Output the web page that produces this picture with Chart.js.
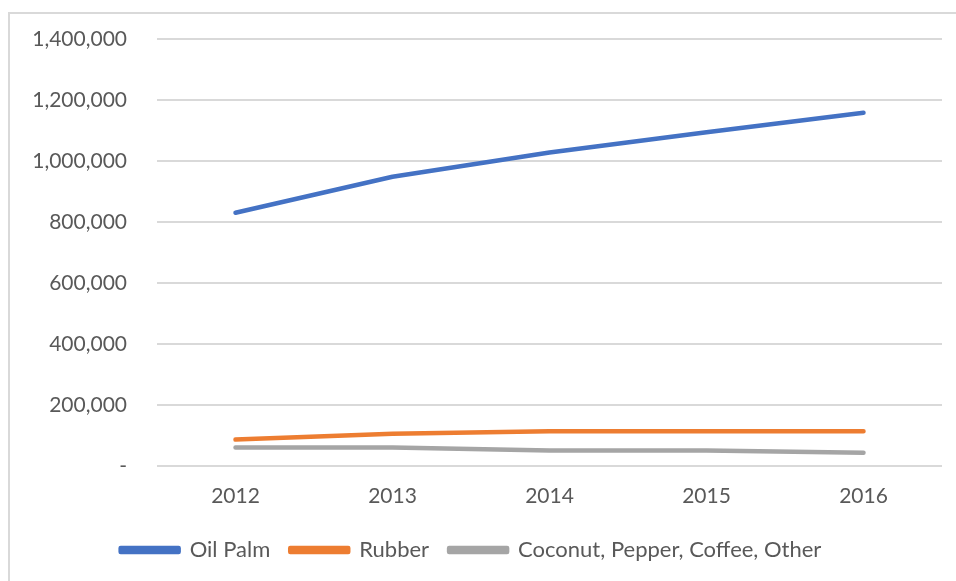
<!DOCTYPE html>
<html>
<head>
<meta charset="utf-8">
<script src="https://cdn.jsdelivr.net/npm/chart.js@4"></script>
<style>
  html, body { margin: 0; padding: 0; background: #fff; overflow: hidden; }
  #wrap { position: relative; width: 956px; height: 581px; }
  #frame {
    position: absolute; left: 8px; top: 12px; width: 1000px; height: 600px;
    border-top: 2px solid #d9d9d9; border-left: 2px solid #d9d9d9;
  }
  #chartBox { position: absolute; left: 0; top: 0; width: 956px; height: 581px; }
</style>
</head>
<body>
<div id="wrap">
  <div id="frame"></div>
  <div id="chartBox"><canvas id="areaChart"></canvas></div>
</div>
<script>
// planted area (hectares) by crop, 2012-2016
const years = ['2012', '2013', '2014', '2015', '2016'];
const oilPalm = [830000, 948000, 1028000, 1094000, 1158000];
const rubber = [86000, 105000, 113000, 113000, 113000];
const otherCrops = [60000, 60000, 50000, 50000, 43000];

const seriesNames = ['Oil Palm', 'Rubber', 'Coconut, Pepper, Coffee, Other'];
const seriesColors = ['#4472C4', '#ED7D31', '#A5A5A5'];

const yMax = 1400000;
const yStep = 200000;

const fontFamily = 'Lato, "Open Sans", sans-serif';
const textColor = '#595959';
const fontSize = 21;

const makeSet = (label, data, color) => ({
  label: label,
  data: data,
  borderColor: color,
  backgroundColor: color,
  borderWidth: 4.5,
  borderCapStyle: 'round',
  borderJoinStyle: 'round',
  pointRadius: 0,
  pointHoverRadius: 0,
  tension: 0,
  fill: false
});

new Chart(document.getElementById('areaChart'), {
  type: 'line',
  data: {
    labels: years,
    datasets: [
      makeSet(seriesNames[0], oilPalm, seriesColors[0]),
      makeSet(seriesNames[1], rubber, seriesColors[1]),
      makeSet(seriesNames[2], otherCrops, seriesColors[2])
    ]
  },
  options: {
    responsive: true,
    maintainAspectRatio: false,
    animation: false,
    layout: { padding: { left: 0, right: 14, top: 39, bottom: 10 } },
    plugins: {
      tooltip: { enabled: false },
      legend: {
        position: 'bottom',
        labels: {
          boxWidth: 58,
          boxHeight: 4,
          padding: 20,
          color: textColor,
          font: { family: fontFamily, size: 22 }
        }
      }
    },
    scales: {
      x: {
        offset: true,
        grid: { display: false },
        border: { display: false },
        ticks: {
          padding: 10,
          color: textColor,
          font: { family: fontFamily, size: fontSize }
        }
      },
      y: {
        min: 0,
        max: yMax,
        // fixed axis width; top label may overhang the plot
        afterFit: (scale) => {
          scale.width = 157;
          scale.paddingTop = 0;
          scale.paddingBottom = 0;
        },
        grid: { color: '#d9d9d9', lineWidth: 2, drawTicks: false },
        border: { display: false },
        ticks: {
          stepSize: yStep,
          padding: 30,
          color: textColor,
          font: { family: fontFamily, size: fontSize },
          callback: (v) => v === 0 ? '-' : v.toLocaleString('en-US')
        }
      }
    }
  }
});
</script>
</body>
</html>
